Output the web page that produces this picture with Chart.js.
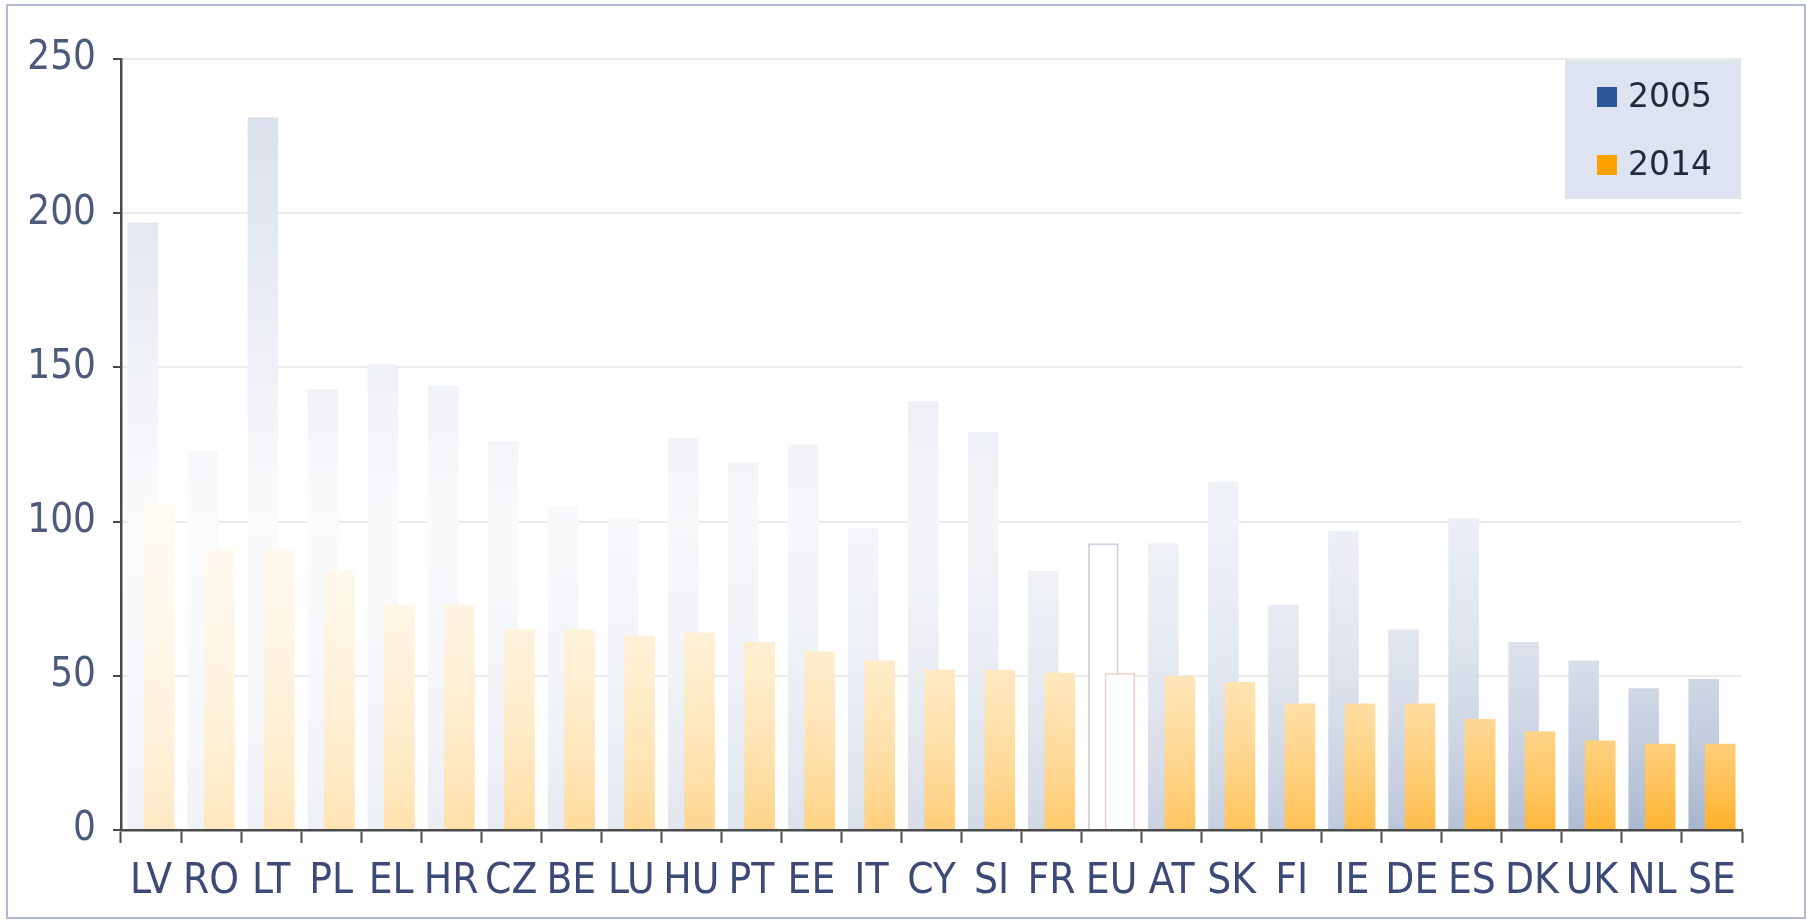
<!DOCTYPE html>
<html>
<head>
<meta charset="utf-8">
<script src="https://cdn.jsdelivr.net/npm/chart.js@4.4.1/dist/chart.umd.min.js"></script>
<style>
  html, body { margin: 0; padding: 0; background: #fff; overflow: hidden; }
  #wrap { position: relative; width: 1812px; height: 921px; }
</style>
</head>
<body>
<div id="wrap"><canvas id="grafico" width="1812" height="921"></canvas></div>
<script>
// data
const countries = ['LV','RO','LT','PL','EL','HR','CZ','BE','LU','HU','PT','EE','IT','CY','SI','FR','EU','AT','SK','FI','IE','DE','ES','DK','UK','NL','SE'];
const values2005 = [197,123,231,143,151,144,126,105,101,127,119,125,98,139,129,84,93,93,113,73,97,65,101,61,55,46,49];
const values2014 = [106,91,91,84,73,73,65,65,63,64,61,58,55,52,52,51,51,50,48,41,41,41,36,32,29,28,28];
const yTicks = [0, 50, 100, 150, 200, 250];
const seriesNames = ['2005', '2014'];
const legendColors = ['#2b5599', '#ffa200'];
const euLabel = 'EU';

const euIndex = countries.indexOf(euLabel);
const narrowFont = "'Liberation Sans Narrow', 'DejaVu Sans Condensed', 'Liberation Sans', sans-serif";

// washed-out look: bars fade towards the top and towards the left
function alpha2005(x, h) {
  const b = 0.13 + 0.64 * Math.pow(x, 1.5);
  const a = b * Math.exp(-3.2 * h) + 0.24 * Math.max(0, (h - 0.4) / 0.4);
  return Math.min(a, 1);
}
function alpha2014(x, h) {
  return Math.min((0.27 + 0.7 * x) * Math.exp(-4 * h), 1);
}

// opaque tint of a base colour over white
function tint(rgb, a) {
  return 'rgb(' + rgb.map(c => Math.round(255 - a * (255 - c))).join(',') + ')';
}

function makeFill(rgb, alphaFn, fallback) {
  return function (c) {
    const chart = c.chart;
    if (!chart.chartArea || c.dataIndex === undefined) return fallback;
    if (c.dataIndex === euIndex) return '#ffffff';
    const ys = chart.scales.y;
    const y0 = ys.getPixelForValue(yTicks[0]);
    const y1 = ys.getPixelForValue(yTicks[yTicks.length - 1]);
    const g = chart.ctx.createLinearGradient(0, y0, 0, y1);
    const x = c.dataIndex / (countries.length - 1);
    for (let i = 0; i <= 20; i++) {
      g.addColorStop(i / 20, tint(rgb, alphaFn(x, i / 20)));
    }
    return g;
  };
}

// 2014 bars sit on top of the 2005 ones
const drawOrder = {
  id: 'drawOrder',
  beforeDatasetDraw(chart, args) {
    if (args.index === 0) return false;
    if (args.index === 1) chart.getDatasetMeta(0).controller.draw();
  }
};

const frameAndLegend = {
  id: 'frameAndLegend',
  beforeDraw(chart) {
    const ctx = chart.ctx;
    ctx.save();
    ctx.strokeStyle = '#b3b9d3';
    ctx.lineWidth = 2;
    ctx.strokeRect(7, 5, chart.width - 14, chart.height - 8);
    ctx.restore();
  },
  afterDraw(chart) {
    const ctx = chart.ctx;
    const a = chart.chartArea;
    const bx = a.right - 177, by = a.top + 1, bw = 176, bh = 139;
    ctx.save();
    ctx.fillStyle = '#dde3f0';
    ctx.fillRect(bx, by, bw, bh);
    ctx.font = "33px 'DejaVu Sans', sans-serif";
    ctx.textBaseline = 'middle';
    chart.data.datasets.forEach((ds, i) => {
      const cy = by + 37 + i * 68;
      ctx.fillStyle = legendColors[i];
      ctx.fillRect(bx + 32, cy - 10, 20, 20);
      ctx.fillStyle = '#1f2b3c';
      ctx.fillText(ds.label, bx + 63, cy + 1);
    });
    ctx.restore();
  }
};

Chart.defaults.font.family = narrowFont;

const grafico = new Chart(document.getElementById('grafico').getContext('2d'), {
  type: 'bar',
  data: {
    labels: countries,
    datasets: [{
      label: seriesNames[0],
      data: values2005,
      backgroundColor: makeFill([140, 158, 192], alpha2005, legendColors[0]),
      borderColor: 'rgba(196,204,222,0.9)',
      borderWidth: c => c.dataIndex === euIndex ? 2 : 0,
      categoryPercentage: 0.55,
      barPercentage: 1.85
    }, {
      label: seriesNames[1],
      data: values2014,
      backgroundColor: makeFill([255, 175, 35], alpha2014, legendColors[1]),
      borderColor: 'rgba(240,205,195,0.9)',
      borderWidth: c => c.dataIndex === euIndex ? 2 : 0,
      categoryPercentage: 0.55,
      barPercentage: 1.85
    }]
  },
  options: {
    responsive: false,
    animation: false,
    devicePixelRatio: 1,
    layout: { padding: { top: 59, right: 70, bottom: 0, left: 0 } },
    plugins: {
      legend: { display: false },
      title: { display: false },
      tooltip: { enabled: false }
    },
    scales: {
      x: {
        grid: {
          display: true,
          drawOnChartArea: false,
          offset: true,
          tickLength: 13,
          tickColor: '#4a4a4a',
          tickWidth: 2
        },
        border: { color: '#4a4a4a', width: 2.5 },
        ticks: {
          color: '#3d4a78',
          font: { size: 42 },
          padding: 14,
          maxRotation: 0,
          autoSkip: false
        },
        afterFit(s) { s.height = 91; }
      },
      y: {
        min: yTicks[0],
        max: yTicks[yTicks.length - 1],
        afterBuildTicks(s) { s.ticks = yTicks.map(v => ({ value: v })); },
        grid: {
          color: '#ebebeb',
          lineWidth: 2,
          tickColor: '#4a4a4a',
          tickLength: 8,
          tickWidth: 2
        },
        border: { color: '#4a4a4a', width: 2.5 },
        ticks: {
          color: '#4d5a7c',
          font: { size: 40 },
          padding: 17
        },
        afterFit(s) { s.width = 121; }
      }
    }
  },
  plugins: [drawOrder, frameAndLegend]
});
</script>
</body>
</html>
